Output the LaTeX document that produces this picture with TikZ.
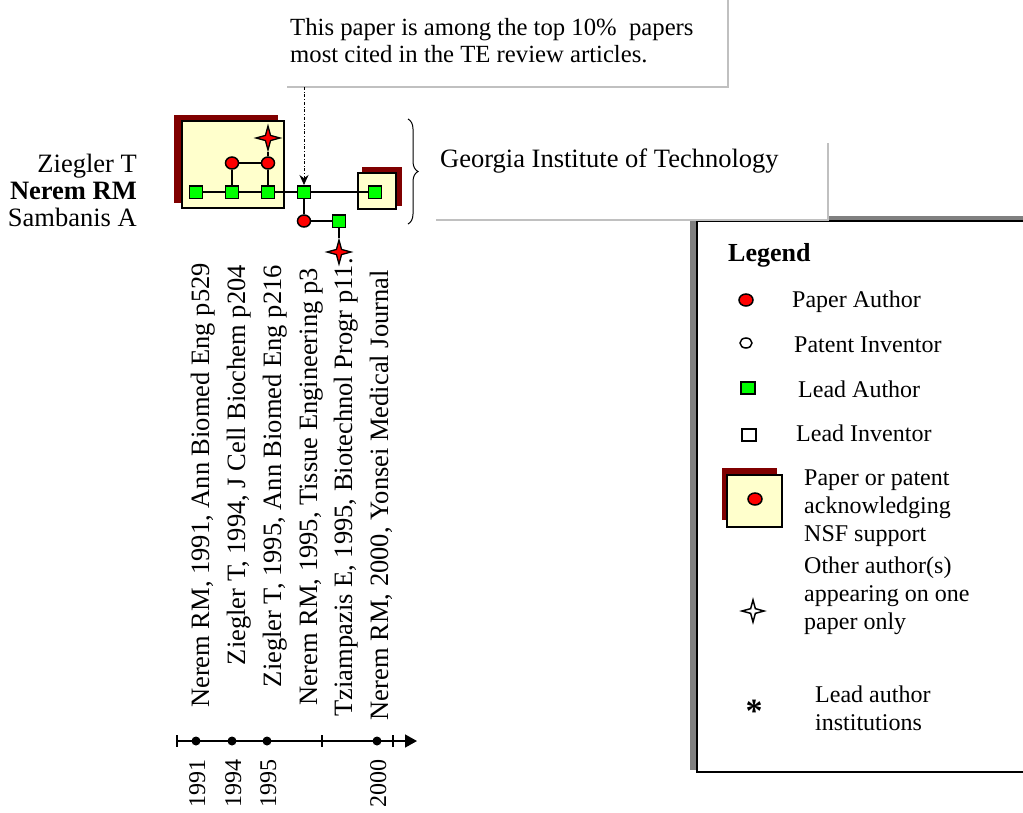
\documentclass[tikz,border=0pt]{standalone}
\usepackage{fontspec}
\setmainfont{Liberation Serif}
\usetikzlibrary{shapes.geometric,decorations.pathreplacing,arrows.meta}
\definecolor{nsfred}{RGB}{128,0,0}
\definecolor{nsffill}{RGB}{255,255,204}
\definecolor{boxedge}{RGB}{192,192,192}
\definecolor{legshade}{RGB}{128,128,128}
\begin{document}
\begin{tikzpicture}[x=1pt,y=-1pt,font=\fontsize{26.5}{28}\selectfont,
  link/.style={line width=1.8pt},
  auth/.style={ellipse,draw,line width=1.5pt,fill=red,minimum width=13pt,minimum height=12pt,inner sep=0pt},
  lead/.style={rectangle,draw,line width=1.5pt,fill=green,minimum width=13pt,minimum height=12.5pt,inner sep=0pt},
  other/.style={star,star points=4,star point ratio=3.3,draw,line width=1.3pt,fill=red,minimum size=24pt,inner sep=0pt},
  nsfbox/.style={draw,line width=1.8pt,fill=nsffill},
  legtxt/.style={anchor=west,inner sep=0pt,align=left,font=\fontsize{24}{28}\selectfont}]
  \useasboundingbox[fill=white] (0,0) rectangle (1023,812);
  \fill[white] (287,-4) rectangle (728,87);
  \draw[boxedge,line width=2pt] (728,-4) -- (728,87) -- (287,87);
  \node[anchor=north west,align=left,inner sep=0pt,font=\fontsize{24.7}{27}\selectfont] (note) at (290,18)
    {This paper is among the top 10\%\ \ papers\\most cited in the TE review articles.};
  \coordinate (notefoot) at (304,87);
  \fill[legshade] (690,216) rectangle (1030,770);
  \draw[line width=1.5pt,fill=white] (697,221) rectangle (1030,772);
  \fill[white] (436,143) rectangle (828,220);
  \draw[boxedge,line width=2pt] (828,143) -- (828,220) -- (436,220);
  \node[anchor=base west,inner sep=0pt] (inst) at (440,167) {Georgia Institute of Technology};
  \draw[decorate,decoration={brace,amplitude=10pt},line width=1pt] (408,119) -- (408,224);
  \fill[nsfred] (174,115) rectangle (278,203);
  \draw[nsfbox] (182,121) rectangle (284,208);
  \fill[nsfred] (362,167) rectangle (402,206);
  \draw[nsfbox] (358,173) rectangle (396,209);
  \foreach \n/\x/\y in {la1/196/192,la2/232/192,la3/268/192,la4/304/192,la6/375/192,la5/339/221}
    \node[lead] (\n) at (\x,\y) {};
  \foreach \n/\x/\y in {pa2/232/163,pa3/268/163,pa4/304/221}
    \node[auth] (\n) at (\x,\y) {};
  \node[other] (st3) at (268,138) {};
  \node[other] (st5) at (339,252) {};
  \draw[link] (la1) -- (la2) (la2) -- (la3) (la3) -- (la4) (la4) -- (la6)
    (la2) -- (pa2) (pa2) -- (pa3) (pa3) -- (la3) (pa3) -- (st3)
    (la4) -- (pa4) (pa4) -- (la5) (la5) -- (st5);
  \draw[dash dot,line width=.8pt,-{Stealth[length=10pt,width=9pt]}] (notefoot) -- (la4);
  \node[anchor=base east,inner sep=0pt] (zt) at (137,172) {Ziegler T};
  \node[anchor=base east,inner sep=0pt,font=\fontsize{26.5}{28}\selectfont\bfseries] (nr) at (137,199) {Nerem RM};
  \node[anchor=base east,inner sep=0pt] (sa) at (137,226) {Sambanis A};
  \foreach \n/\x/\t/\txt in {
    p1/196/263/{Nerem RM, 1991, Ann Biomed Eng p529},
    p2/232/265/{Ziegler T, 1994, J Cell Biochem p204},
    p3/268/265/{Ziegler T, 1995, Ann Biomed Eng p216},
    p4/304/268/{Nerem RM, 1995, Tissue Engineering p3},
    p5/339/258/{Tziampazis E, 1995, Biotechnol Progr p11.},
    p6/375/270/{Nerem RM, 2000, Yonsei Medical Journal}}
    \node[rotate=90,anchor=base east,inner sep=0pt] (\n) at (\x+13,\t) {\txt};
  \coordinate (tstart) at (177,741);
  \coordinate (tend) at (417,741);
  \draw[line width=1.5pt,-{Triangle[length=12pt,width=13pt]}] (tstart) -- (tend);
  \foreach \x in {177,322,393}
    \draw[line width=1.5pt] (\x,735) -- (\x,747);
  \foreach \x/\yr in {196/1991,232/1994,267/1995,377/2000} {
    \fill (\x,741) circle (4.5pt);
    \node[rotate=90,anchor=base east,inner sep=0pt,font=\fontsize{24}{24}\selectfont] (y\yr) at (\x+9,759) {\yr};
  }
  \node[anchor=base west,inner sep=0pt,font=\fontsize{26}{28}\selectfont\bfseries] (legtitle) at (728,261) {Legend};
  \node[auth,minimum width=14pt] (kauth) at (746,300) {};
  \node[auth,fill=white,minimum width=12pt,minimum height=10pt] (kinv) at (746,343) {};
  \node[lead,minimum width=14pt,minimum height=12pt] (klead) at (748,388) {};
  \node[lead,fill=white,minimum width=14pt,minimum height=12pt] (kleadinv) at (749,435) {};
  \fill[nsfred] (722,468) rectangle (777,520);
  \draw[nsfbox] (727,475) rectangle (782,527);
  \node[auth,minimum width=14pt] (knsf) at (755,499) {};
  \node[other,fill=white,minimum size=22pt,line width=1.5pt] (kother) at (753,611) {};
  \node[inner sep=0pt,font=\fontsize{34}{34}\selectfont\bfseries] (kinst) at (754,711) {*};
  \node[anchor=base west,inner sep=0pt,font=\fontsize{24}{28}\selectfont] (tauth) at (792,307) {Paper Author};
  \node[anchor=base west,inner sep=0pt,font=\fontsize{24}{28}\selectfont] (tinv) at (794,352) {Patent Inventor};
  \node[anchor=base west,inner sep=0pt,font=\fontsize{24}{28}\selectfont] (tlead) at (798,397) {Lead Author};
  \node[anchor=base west,inner sep=0pt,font=\fontsize{24}{28}\selectfont] (tleadinv) at (796,441) {Lead Inventor};
  \node[legtxt] (tnsf) at (804,508) {Paper or patent\\acknowledging\\NSF support};
  \node[legtxt] (tother) at (804,596) {Other author(s)\\appearing on one\\paper only};
  \node[legtxt] (tinst) at (815,708) {Lead author\\institutions};
\end{tikzpicture}
\end{document}
